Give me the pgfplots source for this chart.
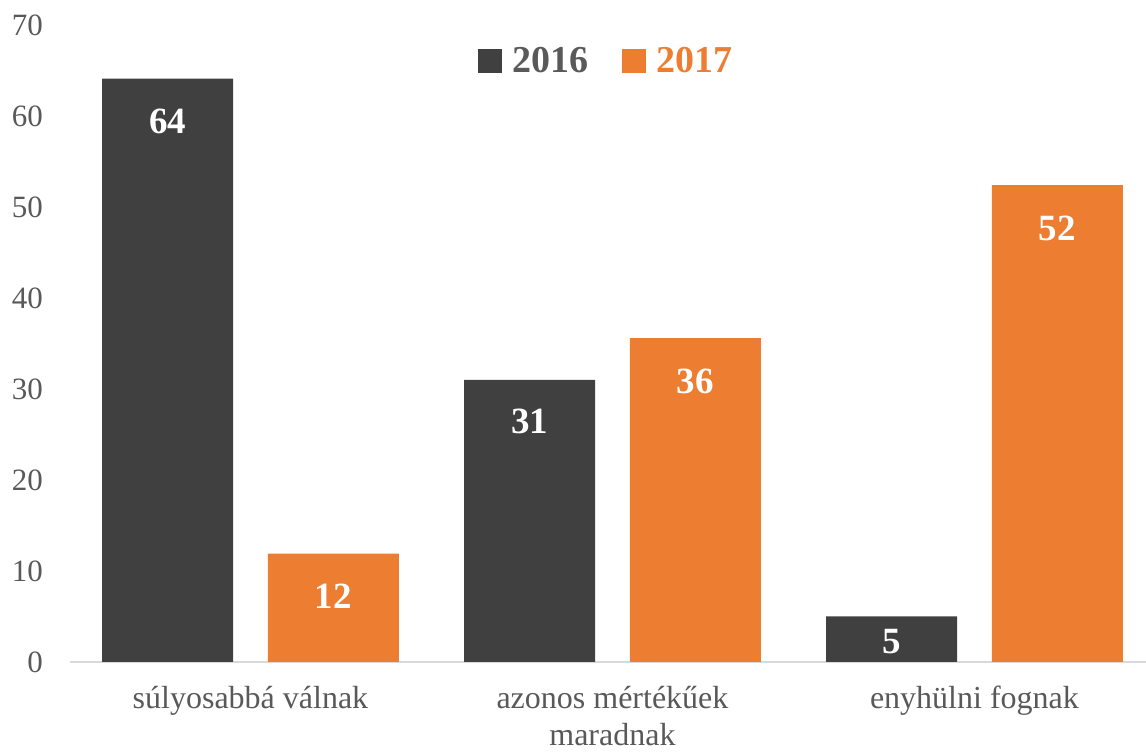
\documentclass[border=0pt]{standalone}
\usepackage{pgfplots}
\pgfplotsset{compat=1.18}
\usepackage{pgfplotstable}
\usepackage{fontspec}
\setmainfont{Liberation Serif}

\definecolor{darkbar}{HTML}{404040}
\definecolor{orangebar}{HTML}{ED7D31}
\definecolor{labelgray}{HTML}{595959}
\definecolor{basegray}{HTML}{D9D9D9}

% x = category index, y = bar height, lab = printed value,
% off = how far the value label sits below the bar top (pt)
\pgfplotstableread{
x y lab off
0 64.1 64 21.5
1 31.0 31 21
2 5.0 5 12.75
}\seriesA
\pgfplotstableread{
x y lab off
0 11.9 12 21.5
1 35.6 36 21.5
2 52.4 52 21.5
}\seriesB

\begin{document}
\begin{tikzpicture}
\begin{axis}[
    scale only axis,
    width=538pt, height=318.5pt,
    ybar,
    bar width=0.362,
    xmin=-0.4986, xmax=2.474,
    ymin=0, ymax=70,
    ytick={0,10,...,70},
    xtick={0,1,2},
    xticklabels={s\'ulyosabb\'a v\'alnak, azonos m\'ert\'ek\H{u}ek\\maradnak, enyh\"ulni fognak},
    enlargelimits=false,
    clip=false,
    axis x line*=bottom,
    axis y line*=left,
    x axis line style={-, draw=basegray, line width=0.8pt},
    y axis line style={draw=none},
    major tick length=0pt,
    /pgf/number format/assume math mode=true,
    yticklabel style={font=\fontsize{15.5}{18}\selectfont, text=labelgray, xshift=-10pt},
    xticklabel style={font=\fontsize{16}{18.5}\selectfont, text=labelgray, align=center, yshift=-8.5pt},
    nodes near coords={\pgfmathprintnumber{\lab}},
    point meta=explicit,
    visualization depends on={\thisrow{off} \as \off},
    visualization depends on={\thisrow{lab} \as \lab},
    every node near coord/.append style={font=\fontsize{18.5}{20}\selectfont\bfseries, text=white, anchor=center, yshift=-\off pt},
    legend columns=2,
    legend style={draw=none, fill=none, at={(0.4995,0.9435)}, anchor=center,
        /tikz/every odd column/.append style={column sep=3pt},
        /tikz/every even column/.append style={column sep=15pt},
        font=\fontsize{19}{20}\selectfont\bfseries},
    legend image code/.code={\fill[#1] (0pt,-6pt) rectangle (12pt,6pt);},
]
\addplot[fill=darkbar, draw=none, bar shift=-0.229] table[x=x, y=y, meta=lab] {\seriesA};
\addlegendentry{\textcolor{labelgray}{2016}}
\addplot[fill=orangebar, draw=none, bar shift=0.229] table[x=x, y=y, meta=lab] {\seriesB};
\addlegendentry{\textcolor{orangebar}{2017}}
\end{axis}
\pgfresetboundingbox
\path (-35pt,-45.5pt) rectangle (538pt,331pt);
\end{tikzpicture}
\end{document}
